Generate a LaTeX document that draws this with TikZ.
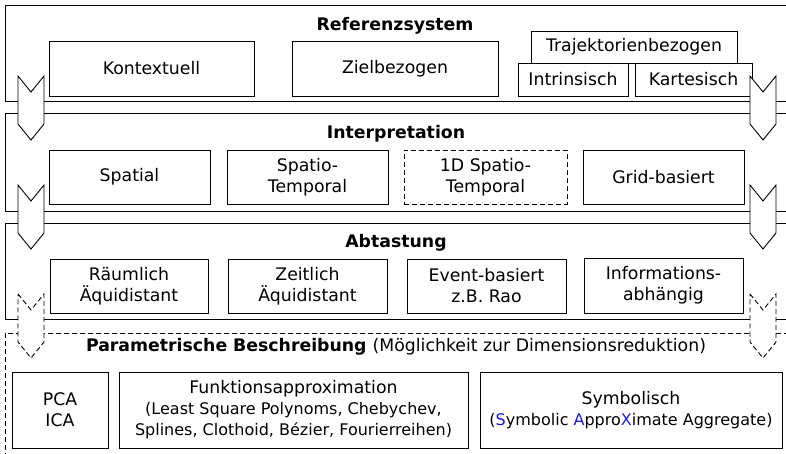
\documentclass[tikz,border=0pt]{standalone}
\usepackage{fontspec}
\setmainfont{DejaVu Sans}
\definecolor{symblau}{RGB}{25,25,235}
\newcommand{\klein}{\fontsize{16}{17}\selectfont}
\begin{document}
\begin{tikzpicture}[x=1pt,y=-1pt]
	\tikzstyle{every node}=[font=\fontsize{17.3}{21}\selectfont]
	\tikzstyle{kasten}=[draw, line width=0.9pt, inner sep=0pt, align=center]
	\tikzstyle{ebene}=[draw, line width=0.9pt]
	\tikzstyle{titel}=[font=\fontsize{17.3}{21}\selectfont\bfseries, anchor=base]
	\tikzstyle{gestrichelt}=[dash pattern=on 5pt off 3pt]
	\tikzstyle{pfeil}=[draw, fill=white, line width=0.9pt, line join=miter]
	
	\useasboundingbox (0,0) rectangle (786,453);
	\clip (0,0) rectangle (786,453);
	
	% Ebenen
	\draw[ebene] (5,5) rectangle (800,101);
	\draw[ebene] (5,113) rectangle (800,211);
	\draw[ebene] (5,223) rectangle (800,319);
	\draw[ebene, gestrichelt] (5,333) rectangle (800,470);
	
	% Referenzsystem
	\node[titel] (ref) at (395,30) {Referenzsystem};
	\node[kasten, minimum width=205, minimum height=55] (kontext) at (151.5,68.5) {Kontextuell};
	\node[kasten, minimum width=206, minimum height=55] (ziel) at (395,68.5) {Zielbezogen};
	\node[kasten, minimum width=206, minimum height=32] (trajekt) at (634,47) {Trajektorienbezogen};
	\node[kasten, minimum width=110, minimum height=33] (intrins) at (573,79.5) {Intrinsisch};
	\node[kasten, minimum width=117, minimum height=33] (kartes) at (693.5,79.5) {Kartesisch};
	
	% Interpretation
	\node[titel] (interp) at (396,138) {Interpretation};
	\node[kasten, minimum width=161, minimum height=54] (spatial) at (129.5,177) {Spatial};
	\node[kasten, minimum width=161, minimum height=54] (spatiotemp) at (307.5,177) {Spatio-\\Temporal};
	\node[kasten, gestrichelt, minimum width=163, minimum height=54] (einsd) at (485.5,177) {1D Spatio-\\Temporal};
	\node[kasten, minimum width=161, minimum height=54] (grid) at (663.5,177) {Grid-basiert};
	
	% Abtastung
	\node[titel] (abtast) at (396,247) {Abtastung};
	\node[kasten, minimum width=158, minimum height=54] (raeuml) at (129,286) {Räumlich\\Äquidistant};
	\node[kasten, minimum width=159, minimum height=54] (zeitl) at (307.5,286) {Zeitlich\\Äquidistant};
	\node[kasten, minimum width=159, minimum height=54] (event) at (486.5,286) {Event-basiert\\z.B. Rao};
	\node[kasten, minimum width=159, minimum height=55] (info) at (663.5,285.5) {Informations-\\abhängig};
	
	% Parametrische Beschreibung
	\node[titel] (param) at (396,351) {Parametrische Beschreibung \mdseries(Möglichkeit zur Dimensionsreduktion)};
	\node[kasten, minimum width=96, minimum height=76] (pca) at (60,410) {PCA\\ICA};
	\node[kasten, minimum width=349, minimum height=76] (funk) at (293.5,410) {Funktionsapproximation\\{\klein(Least Square Polynoms, Chebychev,}\\{\klein Splines, Clothoid, Bézier, Fourierreihen)}};
	\node[kasten, minimum width=302, minimum height=76] (symb) at (631,410) {Symbolisch\\{\klein(\textcolor{symblau}{S}ymbolic \textcolor{symblau}{A}ppro\textcolor{symblau}{X}imate Aggregate)}};
	
	% Pfeile zwischen den Ebenen
	\foreach \px in {18,750}{
		\foreach \py/\linie in {76/solid,185/solid,294/gestrichelt}{
			\draw[pfeil,\linie] (\px,\py) -- ++(13,16) -- ++(13,-16) -- ++(0,48) -- ++(-13,16) -- ++(-13,-16) -- cycle;
		}
	}
	
\end{tikzpicture}
\end{document}
